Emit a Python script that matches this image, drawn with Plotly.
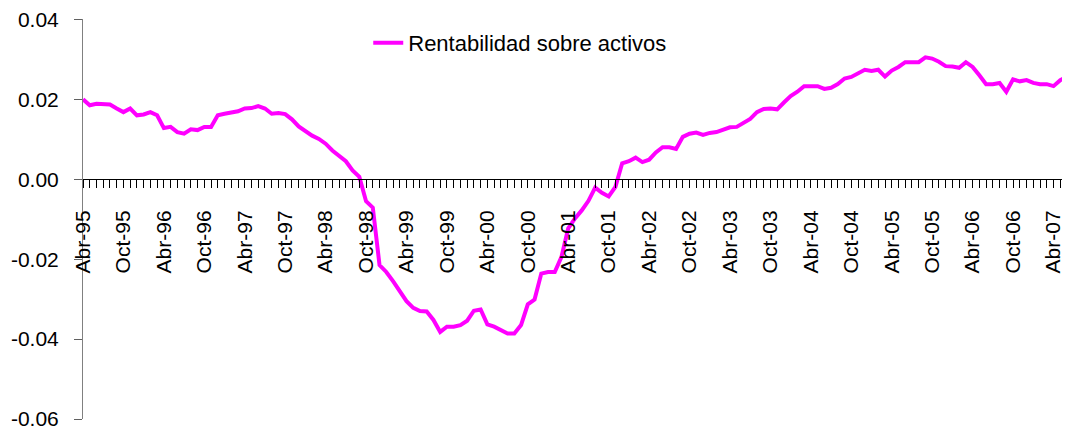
import plotly.graph_objects as go

# ---- data ----
month_names = ["Abr", "May", "Jun", "Jul", "Ago", "Sep", "Oct", "Nov", "Dic", "Ene", "Feb", "Mar"]
series_name = "Rentabilidad sobre activos"

roa = [
    0.0200, 0.0185, 0.0189, 0.0189, 0.0187, 0.0177, 0.0168, 0.0177, 0.0160, 0.0162,
    0.0168, 0.0160, 0.0128, 0.0131, 0.0118, 0.0114, 0.0125, 0.0123, 0.0131, 0.0131,
    0.0160, 0.0164, 0.0168, 0.0170, 0.0177, 0.0178, 0.0183, 0.0177, 0.0164, 0.0166,
    0.0163, 0.0150, 0.0132, 0.0120, 0.0109, 0.0101, 0.0089, 0.0072, 0.0059, 0.0045,
    0.0022, 0.0006, -0.0055, -0.0071, -0.0215, -0.0232, -0.0255, -0.0280, -0.0305, -0.0322,
    -0.0330, -0.0331, -0.0352, -0.0382, -0.0369, -0.0369, -0.0365, -0.0354, -0.0329, -0.0326,
    -0.0363, -0.0369, -0.0378, -0.0386, -0.0386, -0.0365, -0.0313, -0.0301, -0.0236, -0.0232,
    -0.0232, -0.0194, -0.0123, -0.0098, -0.0078, -0.0054, -0.0021, -0.0034, -0.0043, -0.0019,
    0.0040, 0.0045, 0.0054, 0.0043, 0.0049, 0.0067, 0.0080, 0.0080, 0.0076, 0.0106,
    0.0114, 0.0117, 0.0111, 0.0116, 0.0118, 0.0125, 0.0130, 0.0131, 0.0140, 0.0151,
    0.0168, 0.0176, 0.0177, 0.0175, 0.0192, 0.0208, 0.0219, 0.0233, 0.0233, 0.0233,
    0.0226, 0.0229, 0.0238, 0.0252, 0.0256, 0.0266, 0.0274, 0.0271, 0.0274, 0.0257,
    0.0272, 0.0281, 0.0293, 0.0293, 0.0293, 0.0305, 0.0302, 0.0294, 0.0283, 0.0282,
    0.0279, 0.0293, 0.0281, 0.0260, 0.0238, 0.0238, 0.0241, 0.0219, 0.0250, 0.0245,
    0.0248, 0.0241, 0.0238, 0.0238, 0.0233, 0.0248, 0.0256, 0.0190,
]

# month labels Abr-95 ... (one per observation)
months = []
year = 95
for k in range(len(roa)):
    m = month_names[k % 12]
    if m == "Ene":
        year = (year + 1) % 100
    months.append(f"{m}-{year:02d}")

x_tick_labels = [months[k] for k in range(0, len(months), 6)]
y_tick_vals = [-0.06, -0.04, -0.02, 0.00, 0.02, 0.04]
y_tick_text = ["-0.06", "-0.04", "-0.02", "0.00", "0.02", "0.04"]

# ---- figure ----
idx = list(range(len(roa)))
tick_idx = [months.index(lbl) for lbl in x_tick_labels]
all_text = [months[k] if k in tick_idx else "" for k in idx]

FONT = "Liberation Sans Narrow, Arial Narrow, Liberation Sans, Arial, sans-serif"
XR = [0, 146.45]
YR = [-0.06, 0.0401]

fig = go.Figure()
fig.add_trace(go.Scatter(
    x=idx, y=roa, mode="lines", name=series_name,
    line=dict(color="#FF00FF", width=4),
))

fig.update_layout(
    width=1062, height=424,
    margin=dict(l=75, r=0, t=11, b=13, autoexpand=False),
    plot_bgcolor="white", paper_bgcolor="white",
    font=dict(family=FONT, color="black"),
    showlegend=True,
    legend=dict(x=0.289, y=0.94, xanchor="left", yanchor="middle",
                bgcolor="rgba(0,0,0,0)", font=dict(size=22, family=FONT)),
    xaxis=dict(
        range=XR, anchor="free", position=0.6, showgrid=False, zeroline=False,
        showline=True, linecolor="black", linewidth=1, automargin=False,
        tickmode="array", tickvals=idx, ticktext=all_text,
        ticks="outside", ticklen=8, tickcolor="black", tickwidth=1,
        tickangle=-90, tickfont=dict(size=21, family=FONT),
        ticklabelstandoff=14, ticklabeloverflow="allow",
    ),
    xaxis2=dict(
        range=XR, overlaying="x", anchor="free", position=0.6,
        showgrid=False, zeroline=False, showline=False,
        tickmode="array", tickvals=idx, showticklabels=False,
        ticks="inside", ticklen=8, tickcolor="black", tickwidth=1,
    ),
    yaxis=dict(
        range=YR, showgrid=False, zeroline=False, automargin=False,
        showline=True, linecolor="#808080", linewidth=1,
        tickmode="array", tickvals=y_tick_vals, ticktext=y_tick_text,
        ticks="outside", ticklen=8, tickcolor="#606060",
        tickfont=dict(size=21, family=FONT), ticklabelstandoff=11,
        ticklabeloverflow="allow",
    ),
    yaxis2=dict(
        range=YR, overlaying="y", anchor="x", side="left",
        showgrid=False, zeroline=False, showline=False,
        tickmode="array", tickvals=y_tick_vals, showticklabels=False,
        ticks="inside", ticklen=7, tickcolor="#606060",
    ),
)

fig.write_html("out.html")
